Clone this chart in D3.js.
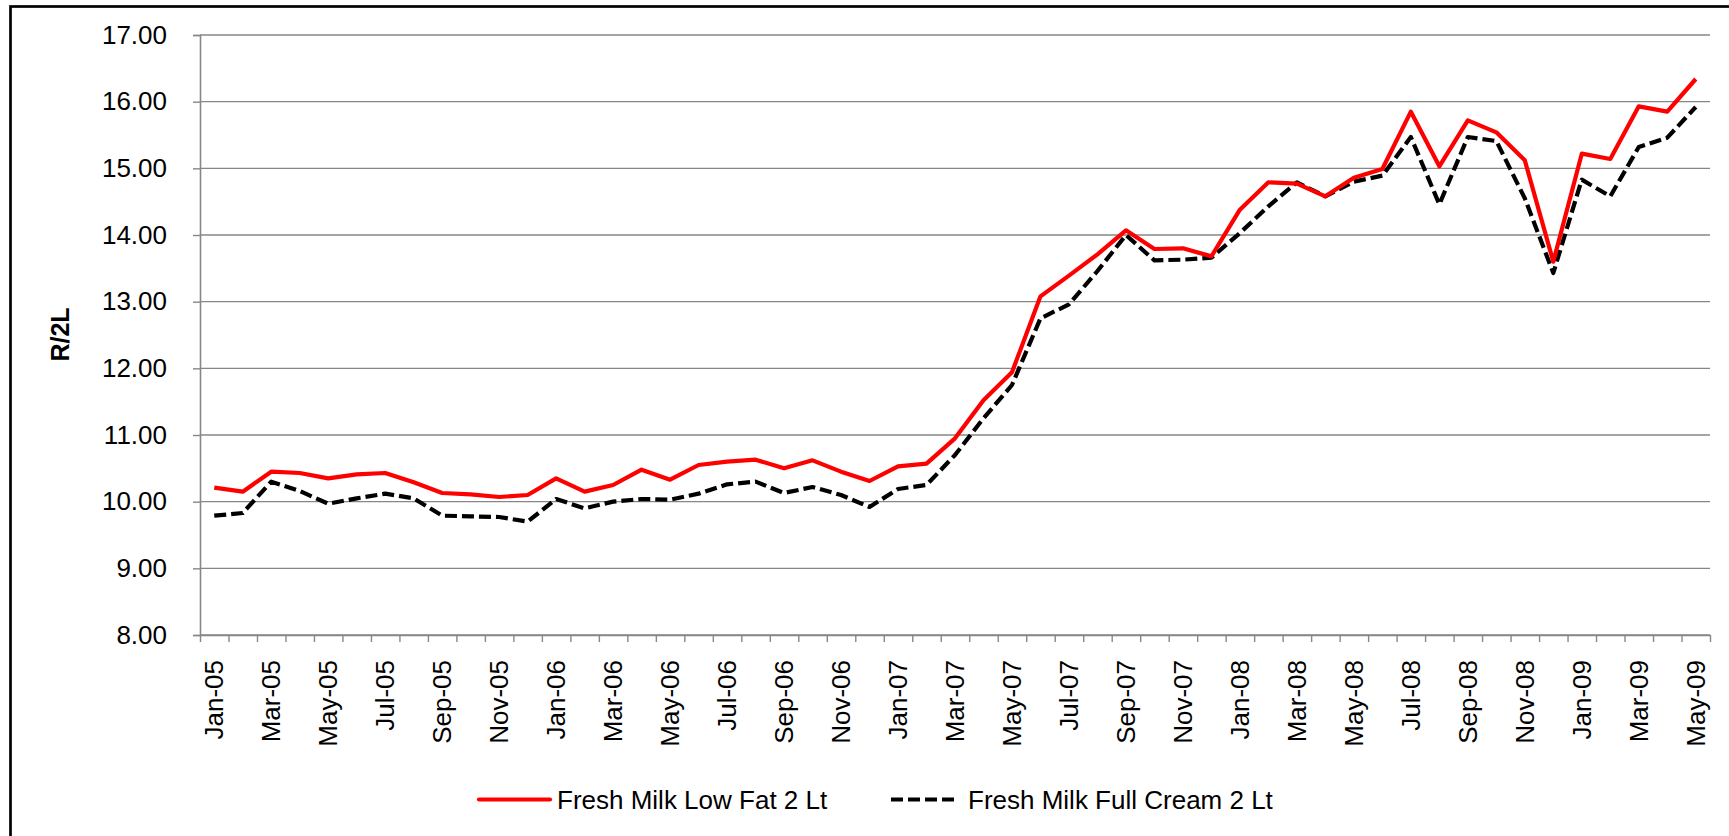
<!DOCTYPE html>
<html>
<head>
<meta charset="utf-8">
<script src="https://cdn.jsdelivr.net/npm/d3@7"></script>
<style>
  body { margin: 0; background: #fff; }
  svg { display: block; font-family: "Liberation Sans", Arial, sans-serif; }
</style>
</head>
<body>
<div id="chart"></div>
<script>
// === DATA ===
const months = [
  "Jan-05","Feb-05","Mar-05","Apr-05","May-05","Jun-05","Jul-05","Aug-05","Sep-05","Oct-05","Nov-05","Dec-05",
  "Jan-06","Feb-06","Mar-06","Apr-06","May-06","Jun-06","Jul-06","Aug-06","Sep-06","Oct-06","Nov-06","Dec-06",
  "Jan-07","Feb-07","Mar-07","Apr-07","May-07","Jun-07","Jul-07","Aug-07","Sep-07","Oct-07","Nov-07","Dec-07",
  "Jan-08","Feb-08","Mar-08","Apr-08","May-08","Jun-08","Jul-08","Aug-08","Sep-08","Oct-08","Nov-08","Dec-08",
  "Jan-09","Feb-09","Mar-09","Apr-09","May-09"
];

// Fresh Milk Low Fat 2 Lt (R/2L)
const lowFat = [
  10.21, 10.15, 10.45, 10.43, 10.35, 10.41, 10.43, 10.29, 10.13, 10.11, 10.07, 10.10,
  10.35, 10.15, 10.25, 10.48, 10.33, 10.55, 10.60, 10.63, 10.50, 10.62, 10.45, 10.31,
  10.53, 10.57, 10.95, 11.52, 11.94, 13.08, 13.39, 13.71, 14.07, 13.79, 13.80, 13.68,
  14.38, 14.79, 14.77, 14.58, 14.86, 14.99, 15.85, 15.03, 15.72, 15.54, 15.12, 13.60,
  15.22, 15.14, 15.93, 15.85, 16.34
];

// Fresh Milk Full Cream 2 Lt (R/2L)
const fullCream = [
  9.79, 9.83, 10.30, 10.16, 9.97, 10.05, 10.12, 10.05, 9.79, 9.78, 9.77, 9.70,
  10.04, 9.90, 10.00, 10.04, 10.03, 10.12, 10.26, 10.30, 10.13, 10.22, 10.10, 9.92,
  10.19, 10.25, 10.70, 11.25, 11.75, 12.75, 12.96, 13.46, 14.00, 13.62, 13.63, 13.66,
  14.03, 14.43, 14.79, 14.58, 14.80, 14.89, 15.47, 14.46, 15.47, 15.41, 14.55, 13.43,
  14.83, 14.58, 15.32, 15.46, 15.92
];

const yTicks = [8, 9, 10, 11, 12, 13, 14, 15, 16, 17];

const series = [
  { name: "Fresh Milk Low Fat 2 Lt", values: lowFat, color: "#ff0000", dash: null },
  { name: "Fresh Milk Full Cream 2 Lt", values: fullCream, color: "#000000", dash: "12,5" }
];

// === LAYOUT ===
const W = 1729, H = 836;
const plot = { left: 200, right: 1710, top: 35, bottom: 635 };
const gridColor = "#878787";
const fontSize = 26;

const svg = d3.select("#chart").append("svg")
  .attr("width", W)
  .attr("height", H);

// outer chart frame (runs past the picture on right and bottom)
svg.append("rect")
  .attr("x", 10.5).attr("y", 6.5)
  .attr("width", W + 20).attr("height", H + 20)
  .attr("fill", "#fff")
  .attr("stroke", "#000")
  .attr("stroke-width", 2.7);

const x = d3.scaleBand().domain(months).range([plot.left, plot.right]);
const xEdge = d3.scaleLinear().domain([0, months.length]).range([plot.left, plot.right]);
const y = d3.scaleLinear().domain([8, 17]).range([plot.bottom, plot.top]);

// gridlines
svg.append("g")
  .selectAll("line")
  .data(yTicks)
  .join("line")
  .attr("x1", plot.left).attr("x2", plot.right)
  .attr("y1", d => y(d)).attr("y2", d => y(d))
  .attr("stroke", gridColor)
  .attr("stroke-width", 1.4);

// y axis
const yAxisG = svg.append("g")
  .attr("transform", `translate(${plot.left},0)`)
  .call(d3.axisLeft(y).tickValues(yTicks).tickFormat(d3.format(".2f")).tickSize(7).tickPadding(26));
yAxisG.select(".domain").attr("stroke", gridColor).attr("stroke-width", 1.6);
yAxisG.selectAll(".tick line").attr("stroke", gridColor).attr("stroke-width", 1.4);
yAxisG.selectAll("text")
  .attr("fill", "#000")
  .style("font-size", fontSize + "px")
  .style("font-family", "'Liberation Sans', Arial, sans-serif");

// x axis: tick marks between categories
const xTickG = svg.append("g")
  .attr("transform", `translate(0,${plot.bottom})`)
  .call(d3.axisBottom(xEdge).tickValues(d3.range(months.length + 1)).tickFormat("").tickSize(7).tickSizeOuter(0));
xTickG.select(".domain").attr("stroke", gridColor).attr("stroke-width", 1.6);
xTickG.selectAll(".tick line").attr("stroke", gridColor).attr("stroke-width", 1.4);

// x axis labels: every second month, rotated
const xLabelG = svg.append("g")
  .attr("transform", `translate(0,${plot.bottom})`)
  .call(d3.axisBottom(x).tickValues(months.filter((d, i) => i % 2 === 0)).tickSize(0).tickPadding(0));
xLabelG.select(".domain").remove();
xLabelG.selectAll("text")
  .attr("transform", "rotate(-90)")
  .attr("text-anchor", "end")
  .attr("x", -25)
  .attr("y", 0)
  .attr("dy", "0.35em")
  .attr("fill", "#000")
  .style("font-size", fontSize + "px")
  .style("font-family", "'Liberation Sans', Arial, sans-serif");

// y axis title
svg.append("text")
  .attr("transform", `translate(69,334.5) rotate(-90)`)
  .attr("text-anchor", "middle")
  .style("font-size", "25px")
  .style("font-weight", "bold")
  .text("R/2L");

// lines
const line = d3.line()
  .x((d, i) => x(months[i]) + x.bandwidth() / 2)
  .y(d => y(d));

svg.append("g")
  .selectAll("path")
  .data(series.slice().reverse())
  .join("path")
  .attr("d", d => line(d.values))
  .attr("fill", "none")
  .attr("stroke", d => d.color)
  .attr("stroke-width", 4.2)
  .attr("stroke-linejoin", "round")
  .attr("stroke-dasharray", d => d.dash);

// legend
const legendItems = [
  { s: series[0], x1: 479, x2: 550, tx: 557 },
  { s: series[1], x1: 891, x2: 957, tx: 968 }
];
const legendY = 799.5;
const lg = svg.append("g")
  .selectAll("g")
  .data(legendItems)
  .join("g");
lg.append("line")
  .attr("x1", d => d.x1).attr("x2", d => d.x2)
  .attr("y1", legendY).attr("y2", legendY)
  .attr("stroke", d => d.s.color)
  .attr("stroke-width", 4.2)
  .attr("stroke-linecap", d => d.s.dash ? "butt" : "round")
  .attr("stroke-dasharray", d => d.s.dash);
lg.append("text")
  .attr("x", d => d.tx)
  .attr("y", legendY)
  .attr("dy", "0.35em")
  .style("font-size", fontSize + "px")
  .text(d => d.s.name);
</script>
</body>
</html>
